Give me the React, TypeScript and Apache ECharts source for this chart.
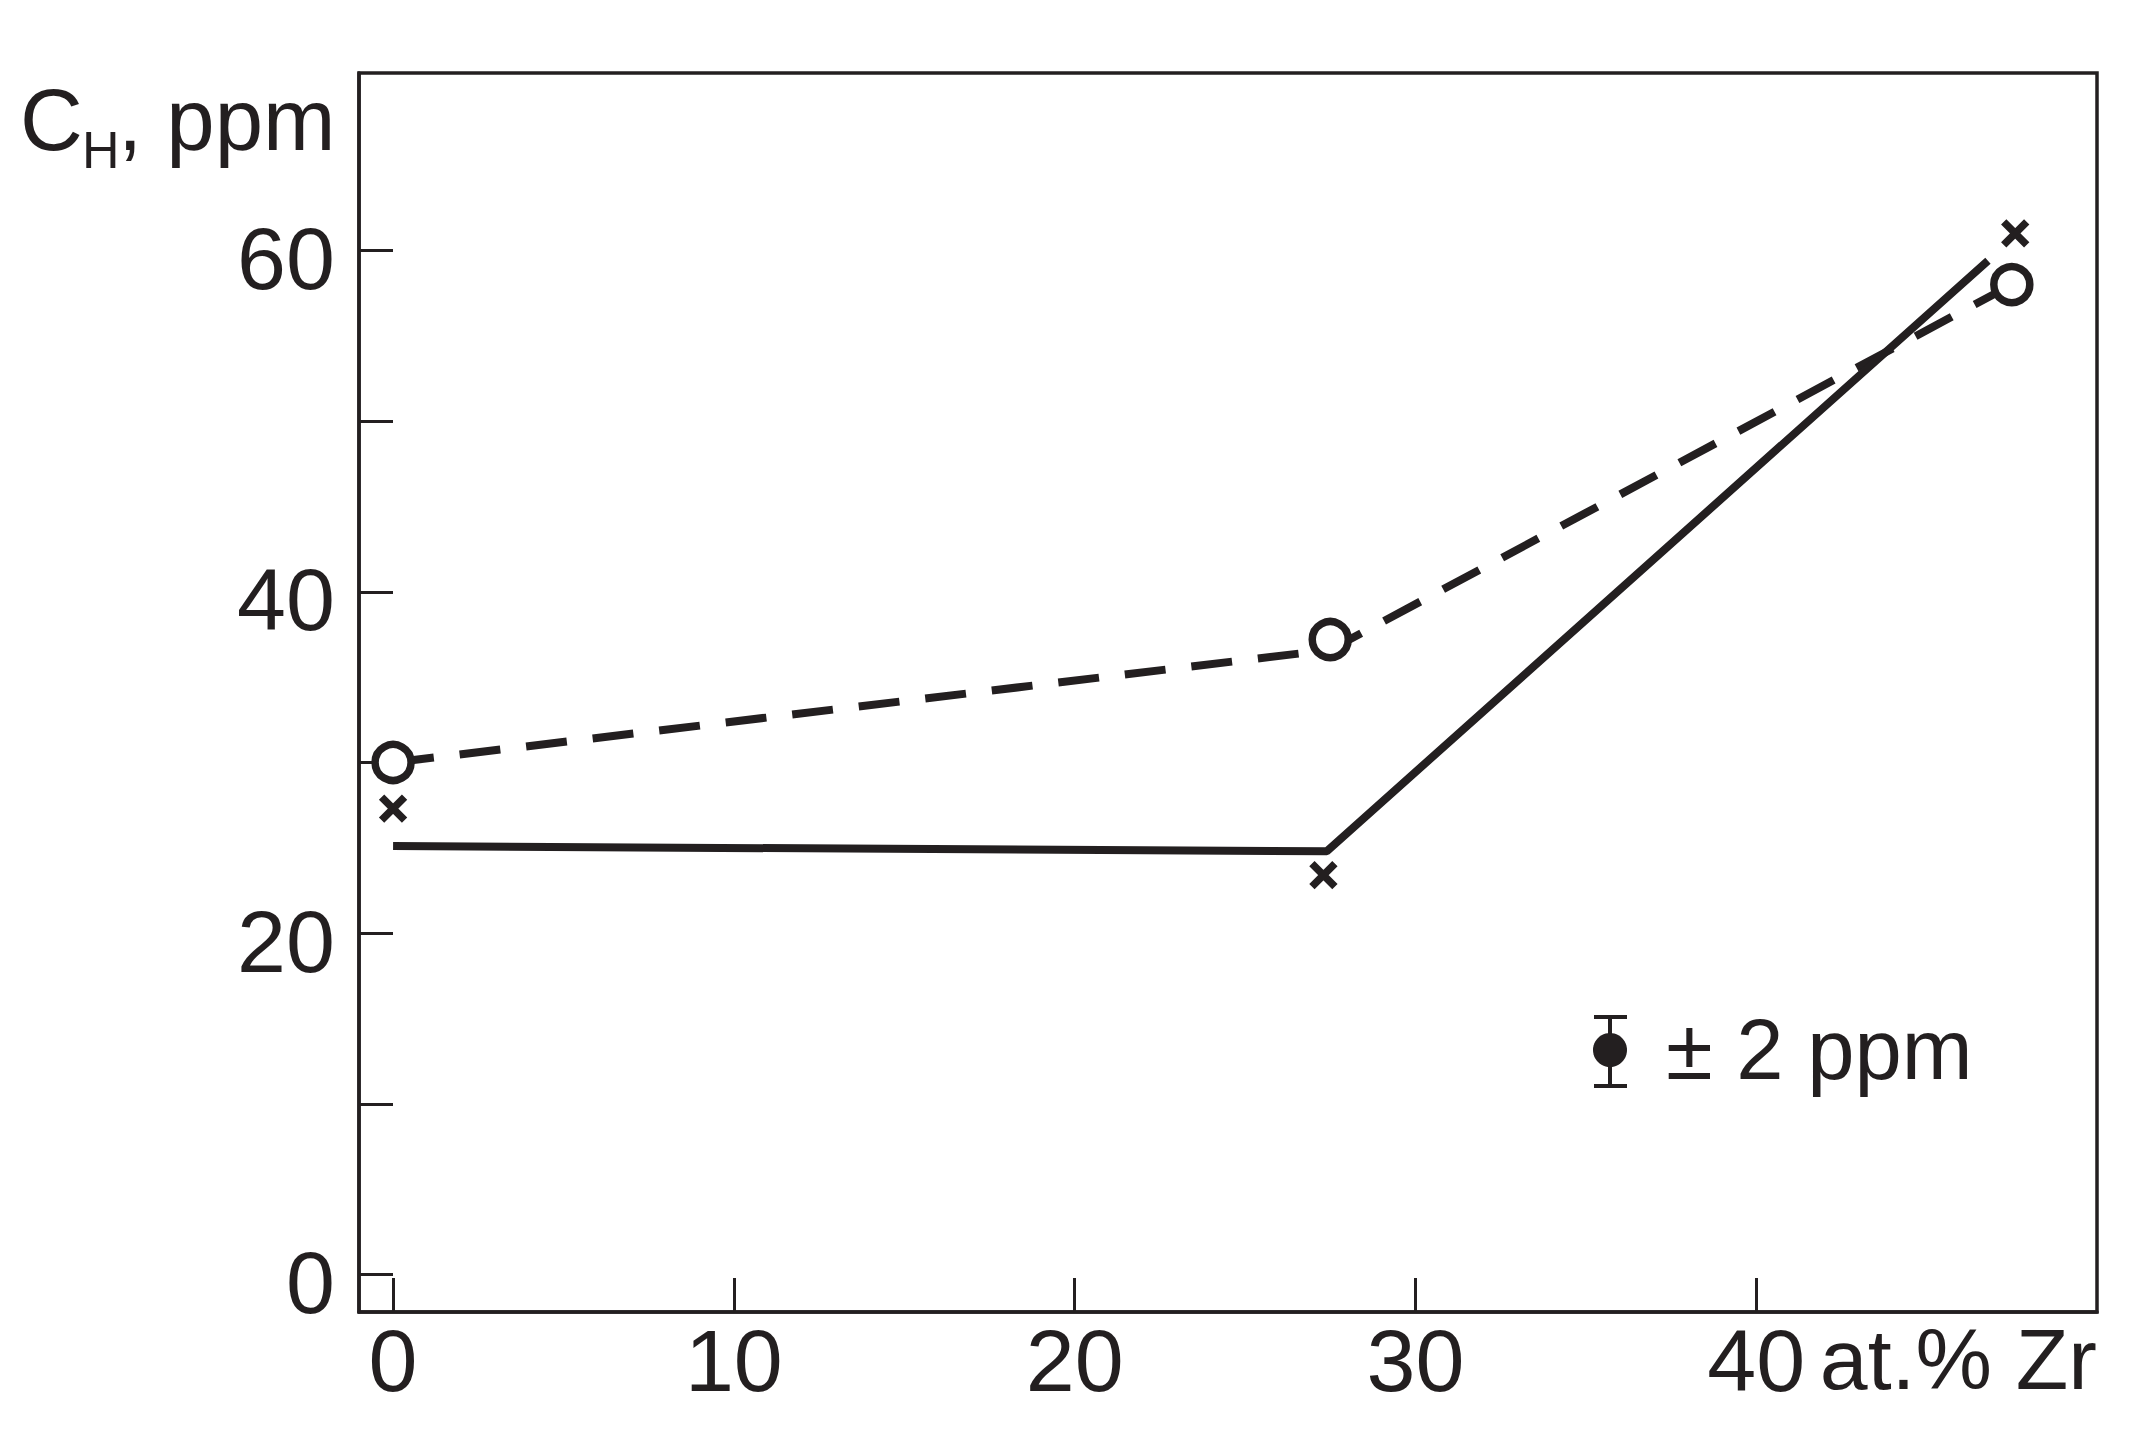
import React, { useEffect, useRef } from "react";
import * as echarts from "echarts";

const INK = "#231f20";
const FONT = "'Liberation Sans', Arial, sans-serif";

// axis ticks and labels
const xTicks = [0, 10, 20, 30, 40];
const xLabels = [0, 10, 20, 30, 40];
const yTicks = [0, 10, 20, 30, 40, 50, 60];
const yLabels = [0, 20, 40, 60];

// series values (x = at.% Zr, y = C_H, ppm)
const dashedLine = [
  [0, 30],
  [27.5, 36.6],
  [47.5, 58],
];
const solidLine = [
  [0, 25.1],
  [27.4, 24.8],
  [46.8, 59.4],
];
const circlePoints = [
  [0, 30],
  [27.5, 37.2],
  [47.5, 58],
];
const crossPoints = [
  [0, 27.3],
  [27.3, 23.4],
  [47.6, 61],
];

const xUnitText = "at.% Zr";
const legendText = "± 2 ppm";

export default function App() {
  const ref = useRef<HTMLDivElement>(null);

  useEffect(() => {
    if (!ref.current) return;
    const chart = echarts.init(ref.current, null, { renderer: "svg" });

    const option: any = {
      animation: false,
      backgroundColor: "#ffffff",
      grid: {
        left: 359,
        right: 59,
        top: 73,
        bottom: 124,
        show: true,
        borderColor: INK,
        borderWidth: 3.5,
        backgroundColor: "transparent",
      },
      xAxis: {
        type: "value",
        min: -1,
        max: 50,
        axisLine: { show: true, onZero: false, lineStyle: { color: INK, width: 3.5 } },
        axisTick: {
          show: true,
          inside: true,
          length: 34,
          customValues: xTicks,
          lineStyle: { color: INK, width: 3 },
        },
        axisLabel: {
          show: true,
          customValues: xLabels,
          margin: 4,
          color: INK,
          fontFamily: FONT,
          fontSize: 88,
        },
        splitLine: { show: false },
      },
      yAxis: {
        type: "value",
        min: -2.2,
        max: 70.4,
        axisLine: { show: true, onZero: false, lineStyle: { color: INK, width: 3.5 } },
        axisTick: {
          show: true,
          inside: true,
          length: 34,
          customValues: yTicks,
          lineStyle: { color: INK, width: 3 },
        },
        axisLabel: {
          show: true,
          customValues: yLabels,
          margin: 24,
          verticalAlign: "top",
          lineHeight: 16,
          color: INK,
          fontFamily: FONT,
          fontSize: 88,
        },
        splitLine: { show: false },
      },
      series: [
        {
          type: "line",
          data: dashedLine,
          symbol: "none",
          lineStyle: { color: INK, width: 8, type: [41, 26], cap: "butt" },
          z: 2,
        },
        {
          type: "line",
          data: solidLine,
          symbol: "none",
          lineStyle: { color: INK, width: 8, type: "solid" },
          z: 2,
        },
        {
          type: "scatter",
          data: circlePoints,
          symbol: "circle",
          symbolSize: 36,
          itemStyle: { color: "#ffffff", borderColor: INK, borderWidth: 7.5, opacity: 1 },
          z: 3,
        },
        {
          type: "scatter",
          data: crossPoints,
          symbol: "path://M0 0L10 10M10 0L0 10",
          symbolSize: 23,
          itemStyle: { color: "transparent", borderColor: INK, borderWidth: 7.5, opacity: 1 },
          z: 3,
        },
      ],
      graphic: [
        {
          type: "text",
          x: 20,
          y: 119,
          style: { text: "C", fontFamily: FONT, fontSize: 87, fill: INK, align: "left", verticalAlign: "middle" },
        },
        {
          type: "text",
          x: 82,
          y: 150,
          style: { text: "H", fontFamily: FONT, fontSize: 52, fill: INK, align: "left", verticalAlign: "middle" },
        },
        {
          type: "text",
          x: 118,
          y: 119,
          style: { text: ", ppm", fontFamily: FONT, fontSize: 87, fill: INK, align: "left", verticalAlign: "middle" },
        },
        {
          type: "text",
          x: 2097,
          y: 1316,
          style: { text: xUnitText, fontFamily: FONT, fontSize: 86, fill: INK, align: "right", verticalAlign: "top" },
        },
        // legend: error-bar symbol
        {
          type: "line",
          shape: { x1: 1610, y1: 1017, x2: 1610, y2: 1086 },
          style: { stroke: INK, lineWidth: 4 },
        },
        {
          type: "line",
          shape: { x1: 1594, y1: 1017, x2: 1627, y2: 1017 },
          style: { stroke: INK, lineWidth: 4 },
        },
        {
          type: "line",
          shape: { x1: 1594, y1: 1086, x2: 1627, y2: 1086 },
          style: { stroke: INK, lineWidth: 4 },
        },
        {
          type: "circle",
          shape: { cx: 1610, cy: 1050, r: 17 },
          style: { fill: INK },
        },
        {
          type: "text",
          x: 1666,
          y: 1049,
          style: { text: legendText, fontFamily: FONT, fontSize: 85, fill: INK, align: "left", verticalAlign: "middle" },
        },
      ],
    };

    chart.setOption(option);
    return () => chart.dispose();
  }, []);

  return (
    <div
      ref={ref}
      style={{ position: "fixed", left: 0, top: 0, width: "2156px", height: "1436px", background: "#fff" }}
    />
  );
}
